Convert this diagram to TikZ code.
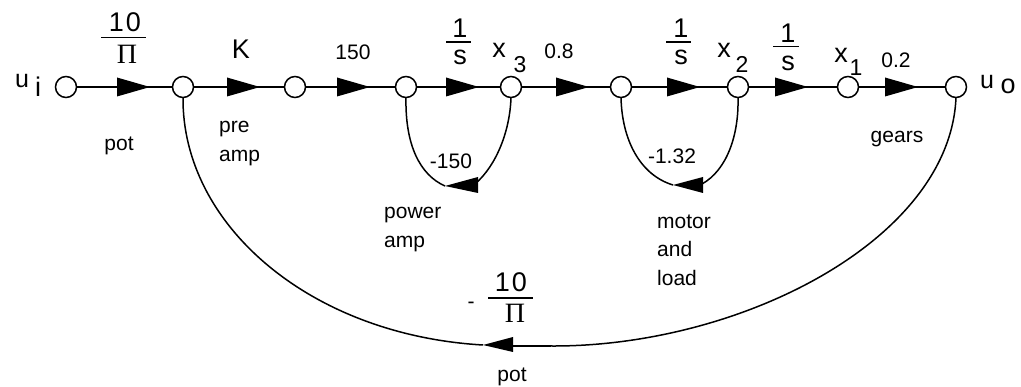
\documentclass[tikz,border=0pt]{standalone}
\usepackage{fontspec}
\setmainfont{Liberation Sans}
\newfontfamily\serifgreek{Liberation Serif}
\tikzset{
  x=1pt,y=-1pt,
  junction/.style={circle,draw,line width=1.5pt,fill=white,minimum size=21pt,inner sep=0pt,outer sep=0pt},
  conn/.style={line width=1.5pt},
  lab/.style={anchor=base,inner sep=0pt,font=\fontsize{21}{24}\selectfont},
  lableft/.style={anchor=base west,inner sep=0pt,font=\fontsize{21}{24}\selectfont},
  big/.style={anchor=base,inner sep=0pt,font=\fontsize{27}{30}\selectfont},
  subs/.style={anchor=base,inner sep=0pt,font=\fontsize{23}{24}\selectfont},
  greek/.style={anchor=base,inner sep=0pt,font=\fontsize{28}{30}\serifgreek},
  fracbar/.style={line width=1.5pt},
}
\newcommand{\headat}[2]{\fill[shift={(#1)},rotate=#2] (0,0) -- (-33,9.5) -- (-33,-9.5) -- cycle;}
\begin{document}
\begin{tikzpicture}
\useasboundingbox (0,0) rectangle (1021,387);
\foreach \n/\px in {a/66,b/183,c/295,d/406,e/511,f/621,g/738,h/848,k/956}
  \node[junction] (\n) at (\px,87) {};
\foreach \p/\q in {a/b,b/c,c/d,d/e,e/f,f/g,g/h,h/k}
  \draw[conn] (\p) -- (\q);
\foreach \t in {150,260,370,479,589,700,808,918}
  \headat{\t,87}{0}
% feedback loops
\coordinate (t1) at (445,186);
\coordinate (t2) at (673,185);
\coordinate (t3) at (483,345);
\coordinate (r3) at (551,346);
\draw[conn] (d.south) .. controls (405,145) and (420,175) .. (t1);
\draw[conn] (e.south) .. controls (510,130) and (497,165) .. (475,184);
\draw[conn] (f.south) .. controls (622,140) and (640,175) .. (t2);
\draw[conn] (g.south) .. controls (739,135) and (727,170) .. (702,184);
\draw[conn] (b.south) .. controls (182,225) and (310,335) .. (t3);
\draw[conn] (k.south) .. controls (950,240) and (740,347) .. (r3);
\draw[line width=2.3pt] (r3) -- (510,346);
\fill (t1) -- (478,177) -- (478,193) -- cycle;
\fill (t2) -- (703,177) -- (703,193) -- cycle;
\fill (t3) -- (513,337) -- (513,352) -- cycle;
% labels
\node[big,font=\fontsize{25}{30}\selectfont] (ui) at (22,88) {u};
\node[big] (uis) at (38,97) {i};
\node[big] (ten1) at (125,32) {1\kern2pt 0};
\coordinate (b1l) at (101,37.5); \coordinate (b1r) at (146,37.5);
\draw[fracbar] (b1l) -- (b1r);
\node[greek] (pi1) at (127,64) {Π};
\node[big] (K) at (241,59) {K};
\node[lab] (g150) at (353,60) {150};
\node[big] (o1) at (460,38) {1};
\coordinate (b2l) at (446,42); \coordinate (b2r) at (471,42);
\draw[fracbar] (b2l) -- (b2r);
\node[big] (s1) at (460,65) {s};
\node[big] (x3) at (499,58) {x};
\node[subs] (x3s) at (520,73) {3};
\node[lab] (g08) at (559,59) {0.8};
\node[big] (o2) at (681,38) {1};
\coordinate (b3l) at (666,42); \coordinate (b3r) at (691,42);
\draw[fracbar] (b3l) -- (b3r);
\node[big] (s2) at (681,65) {s};
\node[big] (x2) at (724,58) {x};
\node[subs] (x2s) at (742,73) {2};
\node[big] (o3) at (788,43) {1};
\coordinate (b4l) at (773,46.5); \coordinate (b4r) at (799,46.5);
\draw[fracbar] (b4l) -- (b4r);
\node[big] (s3) at (788,71) {s};
\node[big] (x1) at (841,63) {x};
\node[subs] (x1s) at (856,76) {1};
\node[lab] (g02) at (896,68) {0.2};
\node[big,font=\fontsize{25}{30}\selectfont] (uo) at (987,89) {u};
\node[big] (uos) at (1008,94) {o};
\node[lab] (pot1) at (119,151) {pot};
\node[lableft] (pre) at (219,133) {pre};
\node[lableft] (amp1) at (219,162) {amp};
\node[lab] (gears) at (897,143) {gears};
\node[lab] (m150) at (451,169) {-150};
\node[lableft] (power) at (384,219) {power};
\node[lableft] (amp2) at (384,248) {amp};
\node[lab] (m132) at (672,164) {-1.32};
\node[lableft] (motor) at (657,229) {motor};
\node[lableft] (and) at (657,257) {and};
\node[lableft] (load) at (657,286) {load};
\node[lab] (minus) at (471,309) {-};
\node[big] (ten2) at (511,292) {1\kern2pt 0};
\coordinate (b5l) at (488,298); \coordinate (b5r) at (533,298);
\draw[fracbar] (b5l) -- (b5r);
\node[greek] (pi2) at (515,323) {Π};
\node[lab] (pot2) at (512,382) {pot};
\end{tikzpicture}
\end{document}
